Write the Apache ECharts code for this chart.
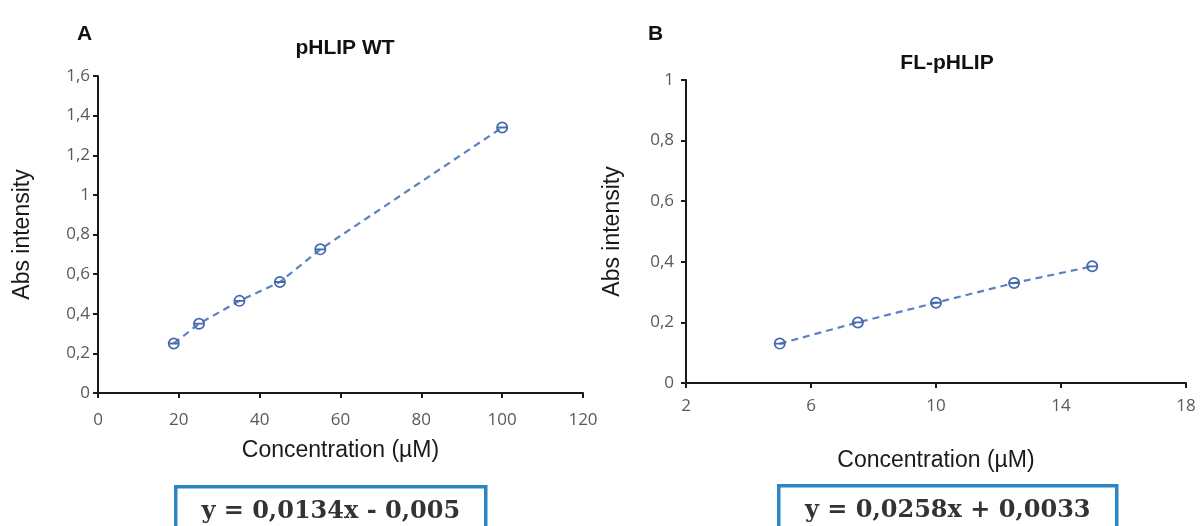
<!DOCTYPE html>
<html>
<head>
<meta charset="utf-8">
<script src="https://cdn.jsdelivr.net/npm/echarts@6/dist/echarts.min.js"></script>
<style>
html,body{margin:0;padding:0;background:#fff;}
#chart{width:1201px;height:526px;}
</style>
</head>
<body>
<div id="chart"></div>
<script>
// ---- Data ----
const panelLetters = ['A', 'B'];
const titles = ['pHLIP WT', 'FL-pHLIP'];
const xAxisName = 'Concentration (µM)';
const yAxisName = 'Abs intensity';
const equations = ['y = 0,0134x - 0,005', 'y = 0,0258x + 0,0033'];

const wtConc = [18.75, 25, 35, 45, 55, 100];
const wtAbs  = [0.25, 0.35, 0.465, 0.56, 0.725, 1.34];

const flConc = [5, 7.5, 10, 12.5, 15];
const flAbs  = [0.13, 0.2, 0.265, 0.33, 0.385];

const xTicksA = [0, 120, 20];   // min, max, interval
const yTicksA = [0, 1.6, 0.2];
const xTicksB = [2, 18, 4];
const yTicksB = [0, 1, 0.2];

// ---- Chart ----
const pairs = (xs, ys) => xs.map((x, i) => [x, ys[i]]);
const comma = v => String(+v.toFixed(2)).replace('.', ',');

const markerPath = 'path://M50,5 A45,45 0 1,1 49.99,5 Z M50,18 A32,32 0 1,0 50.01,18 Z M8,43 L92,43 L92,57 L8,57 Z';
const markColor = '#4668ad';
const lineColor = '#5b82c4';

function xAx(idx, t, gap, margin) {
  return {
    type: 'value', gridIndex: idx, min: t[0], max: t[1], interval: t[2],
    name: xAxisName, nameLocation: 'middle', nameGap: gap,
    nameTextStyle: { fontFamily: 'Liberation Sans', fontSize: 23, color: '#1a1a1a' },
    axisLine: { lineStyle: { color: '#1a1a1a', width: 2 } },
    axisTick: { show: true, length: 5, lineStyle: { color: '#1a1a1a', width: 2 } },
    axisLabel: { fontFamily: 'Open Sans', fontSize: 17, color: '#595959', margin: margin, formatter: comma },
    splitLine: { show: false }
  };
}
function yAx(idx, t, gap, margin) {
  return {
    type: 'value', gridIndex: idx, min: t[0], max: t[1], interval: t[2],
    name: yAxisName, nameLocation: 'middle', nameGap: gap,
    nameTextStyle: { fontFamily: 'Liberation Sans', fontSize: 23, color: '#1a1a1a' },
    axisLine: { show: true, lineStyle: { color: '#1a1a1a', width: 2 } },
    axisTick: { show: true, length: 5, lineStyle: { color: '#1a1a1a', width: 2 } },
    axisLabel: { fontFamily: 'Open Sans', fontSize: 17, color: '#595959', margin: margin, formatter: comma },
    splitLine: { show: false }
  };
}
function ser(idx, data) {
  return {
    type: 'line', xAxisIndex: idx, yAxisIndex: idx, data: data,
    symbol: markerPath, symbolSize: 12, showSymbol: true,
    itemStyle: { color: markColor },
    lineStyle: { color: lineColor, width: 2.2, type: [7, 5] },
    z: 3
  };
}
function eqBox(x, y, w, text) {
  return {
    type: 'group', left: x, top: y,
    children: [
      { type: 'rect', shape: { x: 0, y: 0, width: w, height: 44 },
        style: { fill: '#fff', stroke: '#2a86c2', lineWidth: 3.5 } },
      { type: 'text', style: { text: text, x: w / 2, y: 25, align: 'center', verticalAlign: 'middle',
        font: 'bold 24px "DejaVu Serif"', fill: '#333' } }
    ]
  };
}

const chart = echarts.init(document.getElementById('chart'), null, { renderer: 'canvas' });
chart.setOption({
  animation: false,
  backgroundColor: '#fff',
  title: [
    { text: panelLetters[0], left: 72, top: 19, textStyle: { fontFamily: 'Liberation Sans', fontWeight: 'bold', fontSize: 21, color: '#111' } },
    { text: titles[0], left: 340, top: 33, textAlign: 'center', textStyle: { fontFamily: 'Liberation Sans', fontWeight: 'bold', fontSize: 21, color: '#111' } },
    { text: panelLetters[1], left: 643, top: 19, textStyle: { fontFamily: 'Liberation Sans', fontWeight: 'bold', fontSize: 21, color: '#111' } },
    { text: titles[1], left: 942, top: 48, textAlign: 'center', textStyle: { fontFamily: 'Liberation Sans', fontWeight: 'bold', fontSize: 21, color: '#111' } }
  ],
  grid: [
    { left: 98, top: 76, width: 485, height: 317 },
    { left: 686, top: 80, width: 500, height: 303 }
  ],
  xAxis: [xAx(0, xTicksA, 46, 19), xAx(1, xTicksB, 66, 15)],
  yAxis: [yAx(0, yTicksA, 64, 8), yAx(1, yTicksB, 62, 12)],
  series: [ser(0, pairs(wtConc, wtAbs)), ser(1, pairs(flConc, flAbs))],
  graphic: [eqBox(174, 485, 310, equations[0]), eqBox(777, 484, 338, equations[1])]
});
</script>
</body>
</html>
